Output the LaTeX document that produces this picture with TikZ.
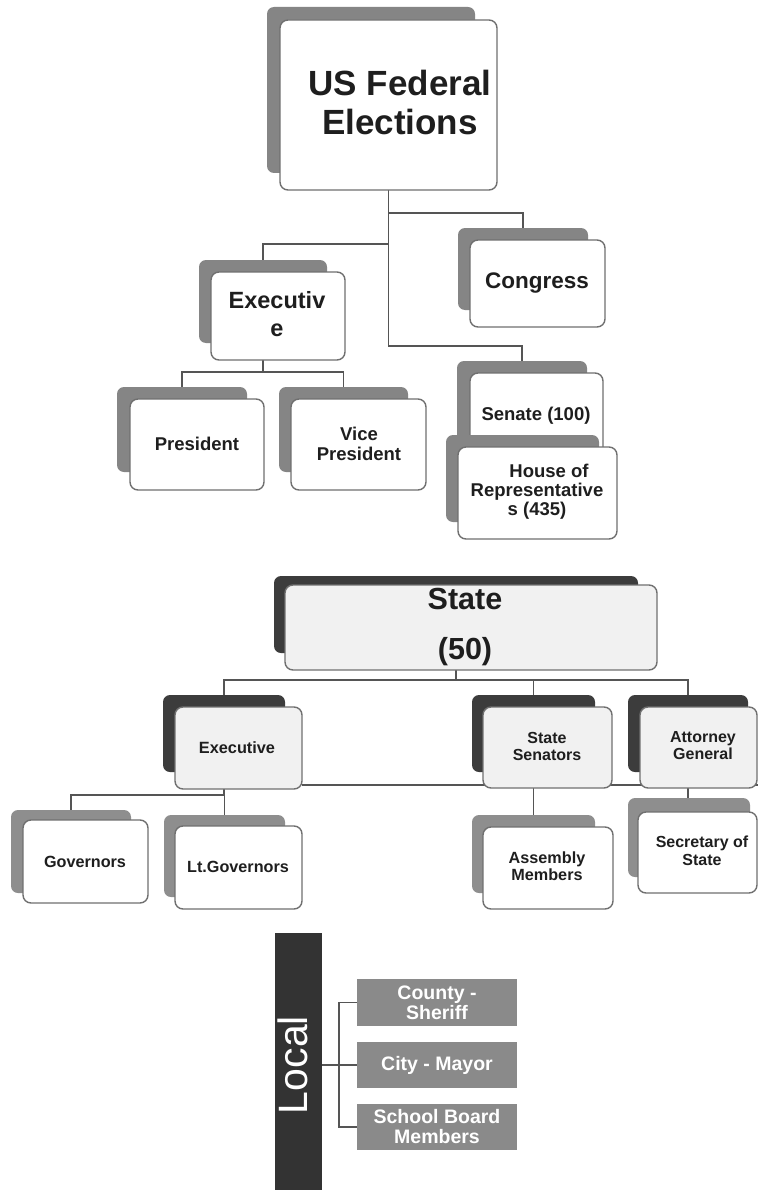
\documentclass[tikz,border=0pt]{standalone}
\usepackage{fontspec}
\setmainfont{Liberation Sans}
\usetikzlibrary{backgrounds}
\definecolor{shL}{HTML}{858585}
\definecolor{shD}{HTML}{3C3C3C}
\definecolor{shM}{HTML}{8E8E8E}
\definecolor{borderC}{HTML}{707070}
\definecolor{lineC}{HTML}{555555}
\definecolor{textC}{HTML}{1E1E1E}
\definecolor{frontS}{HTML}{F1F1F1}
\definecolor{localC}{HTML}{8A8A8A}
\definecolor{barC}{HTML}{333333}
\newcommand\fsz[2]{\fontsize{#1}{#2}\selectfont}
\newcommand\rbox[7]{%
  \node[#6, inner sep=0pt, outer sep=0pt, minimum width={(#4-#2)*1pt}, minimum height={(#5-#3)*1pt}] (#1) at ({(#2+#4)/2},{(#3+#5)/2}) {#7};}
\begin{document}
\begin{tikzpicture}[x=1pt,y=-1pt,
  conn/.style={draw=lineC, line width=1.5pt},
  shadowL/.style={fill=shL, rounded corners=7pt},
  shadowD/.style={fill=shD, rounded corners=7pt},
  shadowM/.style={fill=shM, rounded corners=7pt},
  front/.style={fill=white, draw=borderC, line width=1.4pt, rounded corners=8pt},
  frontS/.style={front, fill=frontS},
  localbox/.style={fill=localC, text=white, font=\bfseries\fsz{19.5}{20}, align=center},
  barbox/.style={fill=barC},
  lbl/.style={text=textC, align=center, inner sep=0pt},
]
\useasboundingbox (0,0) rectangle (758,1193);

% ---------- Federal ----------
\rbox{fedS}{267}{7}{475}{173}{shadowL}{}
\rbox{fedF}{280}{20}{497}{190}{front}{}
\node[lbl, font=\bfseries\fsz{35}{39}] (fedT) at (400,102) {US Federal\\Elections};

\rbox{congS}{458}{228}{588}{310}{shadowL}{}
\rbox{congF}{470}{240}{605}{327}{front}{}
\node[lbl, font=\bfseries\fsz{22.5}{27}] (congT) at (537,283) {Congress};

\rbox{execS}{199}{260}{327}{343}{shadowL}{}
\rbox{execF}{211}{272}{345}{360}{front}{}
\node[lbl, font=\bfseries\fsz{23.5}{28}] (execT) at (277,314) {Executiv\\e};

\rbox{presS}{117}{387}{247}{472}{shadowL}{}
\rbox{presF}{130}{399}{264}{490}{front}{}
\node[lbl, font=\bfseries\fsz{18.5}{20}] (presT) at (197,444) {President};

\rbox{vpS}{279}{387}{408}{472}{shadowL}{}
\rbox{vpF}{291}{399}{426}{490}{front}{}
\node[lbl, font=\bfseries\fsz{18.5}{20}] (vpT) at (359,444) {Vice\\President};

\rbox{senS}{457}{361}{587}{445}{shadowL}{}
\rbox{senF}{470}{373}{603}{458}{front}{}
\node[lbl, font=\bfseries\fsz{18.5}{20}] (senT) at (536,416) {Senate (100)};

\rbox{houseS}{446}{435}{599}{522}{shadowL}{}
\rbox{houseF}{458}{447}{617}{539}{front}{}
\node[lbl, font=\bfseries\fsz{18.5}{19}] (houseT) at (537,492) {\hspace*{24pt}House of\\Representative\\s (435)};

% ---------- State ----------
\rbox{stateS}{274}{576}{638}{653}{shadowD}{}
\rbox{stateF}{285}{585}{657}{670}{frontS}{}
\node[lbl, font=\bfseries\fsz{30.5}{50}] (stateT) at (465,627) {State\\(50)};

\rbox{sexecS}{163}{695}{285}{772}{shadowD}{}
\rbox{sexecF}{175}{707}{302}{789}{frontS}{}
\node[lbl, font=\bfseries\fsz{16.3}{17}] (sexecT) at (237,748) {Executive};

\rbox{ssenS}{472}{695}{595}{772}{shadowD}{}
\rbox{ssenF}{483}{707}{612}{788}{frontS}{}
\node[lbl, font=\bfseries\fsz{16}{17}] (ssenT) at (547,746) {State\\Senators};

\rbox{agS}{628}{695}{748}{772}{shadowD}{}
\rbox{agF}{640}{707}{757}{788}{frontS}{}
\node[lbl, font=\bfseries\fsz{16}{17}] (agT) at (703,746) {Attorney\\General};

\rbox{govS}{11}{810}{131}{893}{shadowM}{}
\rbox{govF}{23}{820}{148}{903}{front}{}
\node[lbl, font=\bfseries\fsz{16.2}{17}] (govT) at (85,862) {Governors};

\rbox{ltgS}{164}{815}{285}{897}{shadowM}{}
\rbox{ltgF}{175}{826}{302}{909}{front}{}
\node[lbl, font=\bfseries\fsz{16.2}{17}] (ltgT) at (238,867) {Lt.Governors};

\rbox{asmS}{472}{815}{595}{893}{shadowM}{}
\rbox{asmF}{483}{827}{613}{909}{front}{}
\node[lbl, font=\bfseries\fsz{16.2}{17}] (asmT) at (547,866) {Assembly\\Members};

\rbox{secS}{628}{798}{750}{877}{shadowM}{}
\rbox{secF}{638}{812}{757}{893}{front}{}
\node[lbl, font=\bfseries\fsz{16}{18}] (secT) at (702,851) {Secretary of\\State};

% ---------- Local ----------
\rbox{bar}{275}{933}{322}{1190}{barbox}{}
\node[rotate=90, text=white, font=\fsz{41}{41}, inner sep=0pt] (localT) at (293,1065) {Local};
\rbox{countyB}{357}{979}{517}{1026}{localbox}{County -\\Sheriff}
\rbox{cityB}{357}{1042}{517}{1088}{localbox}{City - Mayor}
\rbox{schoolB}{357}{1104}{517}{1150}{localbox}{School Board\\Members}

% ---------- connectors ----------
\begin{pgfonlayer}{background}
\fill[white] (0,0) rectangle (758,1193);
\draw[conn] (fedF.south) -- ++(0,23) -| (congS.north);
\draw[conn] (fedF.south) -- ++(0,54) -| (execS.north);
\draw[conn] (fedF.south) -- ++(0,156) -| (senS.north);
\draw[conn] (execS.center |- execF.south) -- ++(0,12) -| (presS.north);
\draw[conn] (execS.center |- execF.south) -- ++(0,12) -| (vpS.north);
\draw[conn] (stateS.center |- stateF.south) -- ++(0,10) -| (sexecS.north);
\draw[conn] (stateS.center |- stateF.south) -- ++(0,10) -| (ssenS.north);
\draw[conn] (stateS.center |- stateF.south) -- ++(0,10) -| (agS.north);
\draw[conn] (sexecS.center |- sexecF.south) -- ++(0,6) -| (govS.north);
\draw[conn] (sexecS.center |- sexecF.south) -- ++(0,6) -| (ltgS.north);
\draw[conn] (ssenS.center |- ssenF.south) -- (ssenS.center |- asmS.north);
\draw[conn] (agS.center |- agF.south) -- (agS.center |- secS.north);
\coordinate (rEnd) at (758,785);
\draw[conn] (sexecF.east |- rEnd) -- (rEnd);
\draw[conn] (bar.east |- cityB.west) -- (cityB.west);
\draw[conn] (countyB.west) -- ++(-18,0) |- (schoolB.west);
\end{pgfonlayer}
\end{tikzpicture}
\end{document}
